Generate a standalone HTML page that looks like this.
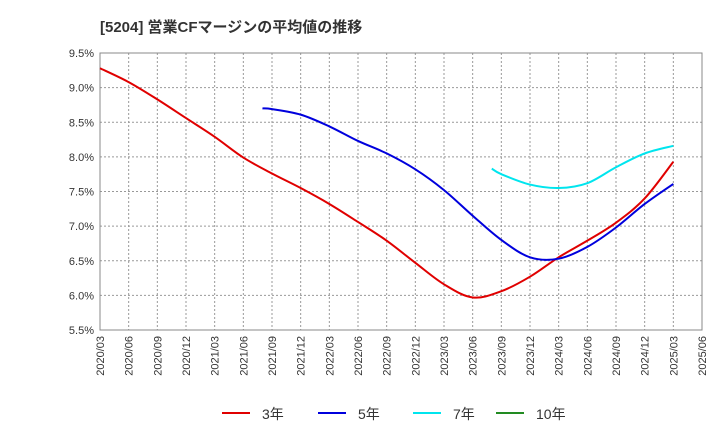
<!DOCTYPE html>
<html><head><meta charset="utf-8"><style>
body{margin:0;background:#fff;}
svg{font-family:"Liberation Sans","Noto Sans CJK JP",sans-serif;}
</style></head><body>
<svg id="chart" width="720" height="440" xmlns="http://www.w3.org/2000/svg">
<text x="100" y="32" font-size="15" font-weight="bold" fill="#333">[5204]  営業CFマージンの平均値の推移</text>
<g id="grid"></g><g id="axes"></g><g id="series"></g><g id="legend"></g>
</svg>
<script>
const xTickLabels=["2020/03","2020/06","2020/09","2020/12","2021/03","2021/06","2021/09","2021/12","2022/03","2022/06","2022/09","2022/12","2023/03","2023/06","2023/09","2023/12","2024/03","2024/06","2024/09","2024/12","2025/03","2025/06"];
const yTicks=[5.5,6.0,6.5,7.0,7.5,8.0,8.5,9.0,9.5];
const dates3=["2020/03","2020/06","2020/09","2020/12","2021/03","2021/06","2021/09","2021/12","2022/03","2022/06","2022/09","2022/12","2023/03","2023/06","2023/09","2023/12","2024/03","2024/06","2024/09","2024/12","2025/03"];
const values3=[9.28,9.08,8.83,8.56,8.29,7.99,7.76,7.55,7.32,7.06,6.79,6.47,6.16,5.97,6.06,6.27,6.55,6.79,7.05,7.40,7.93];
const dates5=["2021/08","2021/09","2021/12","2022/03","2022/06","2022/09","2022/12","2023/03","2023/06","2023/09","2023/12","2024/03","2024/06","2024/09","2024/12","2025/03"];
const values5=[8.70,8.69,8.61,8.44,8.23,8.05,7.82,7.52,7.15,6.80,6.55,6.53,6.70,6.98,7.32,7.61];
const dates7=["2023/08","2023/09","2023/12","2024/03","2024/06","2024/09","2024/12","2025/03"];
const values7=[7.83,7.75,7.60,7.55,7.62,7.85,8.05,8.16];
const L=100,R=702,T=53,B=330;
const NS="http://www.w3.org/2000/svg";
function mi(d){const [y,m]=d.split("/").map(Number);return (y-2020)*12+(m-3);}
function xs(d){return L+mi(d)*(R-L)/63;}
function ys(v){return B-(v-5.5)*(B-T)/4;}
function mk(tag,attrs,parent){const e=document.createElementNS(NS,tag);for(const k in attrs)e.setAttribute(k,attrs[k]);parent.appendChild(e);return e;}
const grid=document.getElementById('grid'),axes=document.getElementById('axes'),ser=document.getElementById('series'),leg=document.getElementById('legend');
yTicks.forEach(v=>{const y=ys(v);
 const g=mk('line',{x1:L,x2:R,y1:y,y2:y,stroke:'#999','stroke-dasharray':'2,2','stroke-width':1},grid);
 
 
 const t=mk('text',{x:L-6,y:y+4,'text-anchor':'end','font-size':11,fill:'#333'},axes);t.textContent=v.toFixed(1)+'%';
 
 
});
xTickLabels.forEach(d=>{const x=xs(d);
 const g=mk('line',{x1:x,x2:x,y1:T,y2:B,stroke:'#999','stroke-dasharray':'2,2','stroke-width':1},grid);
 
 
 const t=mk('text',{x:0,y:0,'text-anchor':'end','font-size':11,fill:'#333',transform:`translate(${x+4},${B+6}) rotate(-90)`},axes);t.textContent=d;
 
 
});
const fr=mk('rect',{x:L,y:T,width:R-L,height:B-T,fill:'none',stroke:'#888'},axes);


function smooth(pts){let d=`M${pts[0][0]},${pts[0][1]}`;for(let i=0;i<pts.length-1;i++){const p0=pts[i-1]||pts[i],p1=pts[i],p2=pts[i+1],p3=pts[i+2]||p2;
 const c1=[p1[0]+(p2[0]-p0[0])/6,p1[1]+(p2[1]-p0[1])/6],c2=[p2[0]-(p3[0]-p1[0])/6,p2[1]-(p3[1]-p1[1])/6];
 d+=` C${c1[0]},${c1[1]} ${c2[0]},${c2[1]} ${p2[0]},${p2[1]}`;}return d;}
function series(dates,vals,color,name){const p=mk('path',{d:smooth(dates.map((d,i)=>[xs(d),ys(vals[i])])),fill:'none',stroke:color,'stroke-width':2},ser);
 
 }
series(dates3,values3,'#e00000','line-3yr');
series(dates5,values5,'#0000dd','line-5yr');
series(dates7,values7,'#00e5ee','line-7yr');
const legItems=[["3年","#e00000",222],["5年","#0000dd",318],["7年","#00e5ee",413],["10年","#228b22",496]];
legItems.forEach(([lab,c,x])=>{
 const l=mk('line',{x1:x,x2:x+28,y1:413,y2:413,stroke:c,'stroke-width':2},leg);
 
 
 const t=mk('text',{x:x+40,y:419,'font-size':14,fill:'#333'},leg);t.textContent=lab;
 
 
});
</script>
</body></html>
